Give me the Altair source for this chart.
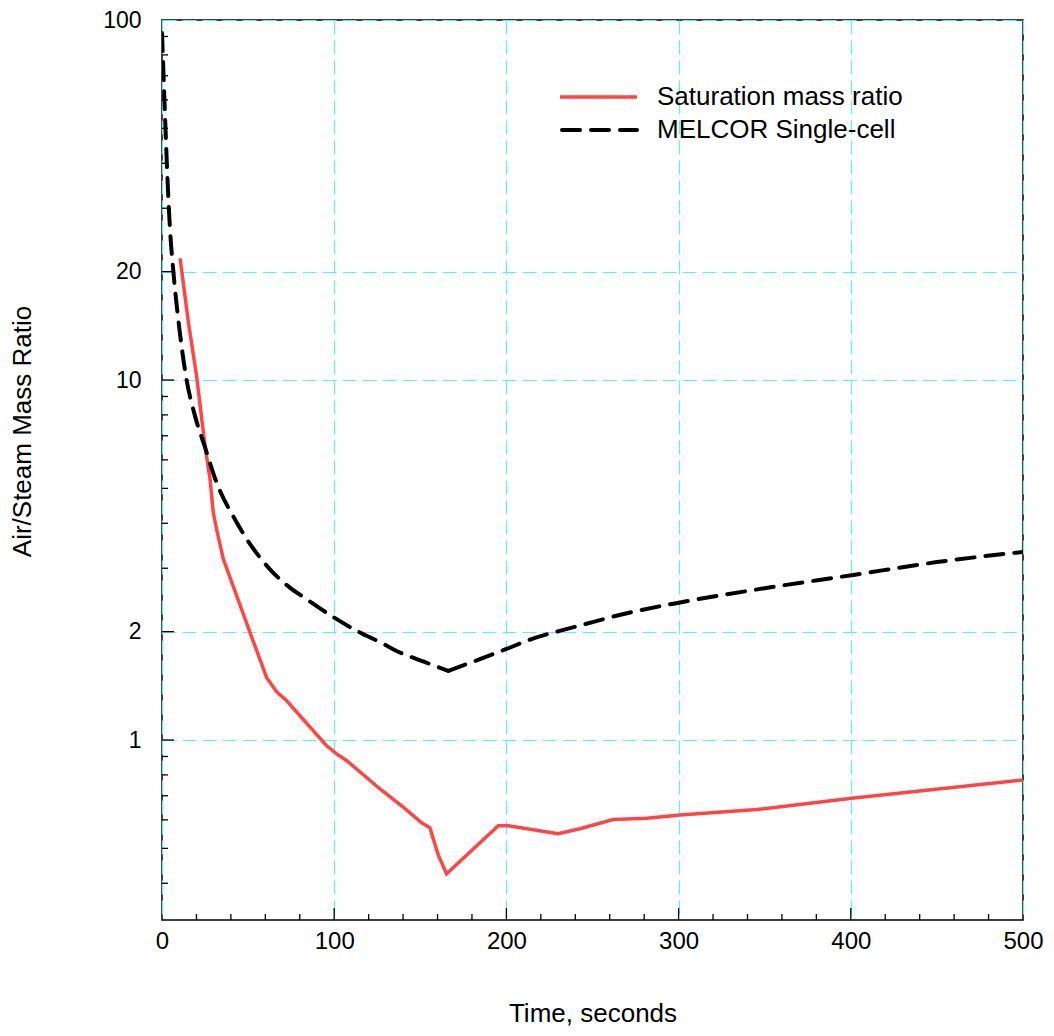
import altair as alt
import pandas as pd

# ---- data ----
melcor_t = [0, 0.8, 1.7, 3, 4.6, 6.6, 10, 14.3, 19, 25, 31, 43.4, 62.7, 73, 84, 100.5, 114,
            126.6, 138.2, 152, 166.3, 185, 200, 215, 231, 242.7, 270, 300.8, 350, 400.5, 450, 500]
melcor_v = [92, 72, 55, 38, 26.5, 20, 14, 10, 8.0, 6.5, 5.3, 4.02, 2.98, 2.68, 2.46, 2.18, 2.0,
            1.87, 1.75, 1.65, 1.556, 1.68, 1.79, 1.91, 2.01, 2.08, 2.25, 2.41, 2.64, 2.87, 3.12, 3.33]
melcor_min_index = 20  # the sharp minimum at t = 166.3 s

sat_t = [10.5, 15.3, 20.1, 25, 27.9, 29.8, 31.7, 35.6, 51.1, 60.8, 66.6, 72.4, 95.6, 101.4,
         107.3, 126.6, 140.1, 150.8, 155.6, 160.5, 165.3, 195.3, 201, 230, 242.7, 262, 281.5,
         300.8, 345.4, 400.5, 500]
sat_v = [21.8, 14.5, 10.24, 6.55, 5.3, 4.28, 3.85, 3.18, 1.99, 1.49, 1.36, 1.285, 0.964, 0.915,
         0.876, 0.731, 0.651, 0.589, 0.570, 0.478, 0.425, 0.578, 0.578, 0.549, 0.567, 0.601, 0.606,
         0.619, 0.641, 0.689, 0.774]

x_label_values = [0, 100, 200, 300, 400, 500]
y_label_values = [1, 2, 10, 20, 100]
x_major_ticks = [100, 200, 300, 400]
x_minor_ticks = [v for v in range(20, 500, 20) if v % 100 != 0]
y_major_ticks = [1, 2, 10, 20]
y_minor_ticks = [0.4, 0.5, 0.6, 0.7, 0.8, 0.9, 3, 4, 5, 6, 7, 8, 9, 30, 40, 50, 60, 70, 80, 90]

series_names = ["Saturation mass ratio", "MELCOR Single-cell"]
x_title = "Time, seconds"
y_title = "Air/Steam Mass Ratio"

FONT = "Liberation Sans"
RED = "#ff4545"
GRID = "#5ef0f0"
DASH = [18, 11]

xscale = alt.Scale(domain=[0, 500], nice=False, zero=False)
yscale = alt.Scale(type="log", domain=[10 ** -0.5, 100], nice=False)

xaxis = alt.Axis(values=x_label_values, title=x_title, grid=True, gridColor=GRID,
                 gridDash=[14, 6], gridWidth=1.2, domain=False, ticks=False, tickSize=0,
                 labelFlush=False, labelFont=FONT, labelFontSize=24, labelColor="black",
                 labelPadding=9,
                 titleFont=FONT, titleFontSize=26, titleFontWeight="normal", titleColor="black",
                 titleY=93, titleBaseline="middle")
yaxis = alt.Axis(values=y_label_values, format="d", title=y_title, grid=True, gridColor=GRID,
                 gridDash=[14, 6], gridWidth=1.2, domain=False, ticks=False, tickSize=0,
                 labelFlush=False, labelFont=FONT, labelFontSize=23, labelColor="black",
                 labelPadding=21,
                 titleFont=FONT, titleFontSize=26, titleFontWeight="normal", titleColor="black",
                 titleX=-140, titleY=411, titleAlign="center", titleBaseline="middle",
                 titleAngle=-90)

X = alt.X("t:Q", scale=xscale, axis=xaxis)
Y = alt.Y("v:Q", scale=yscale, axis=yaxis)

df_sat = pd.DataFrame({"t": sat_t, "v": sat_v})
k = melcor_min_index
df_mel = pd.concat([
    pd.DataFrame({"t": melcor_t[:k + 1], "v": melcor_v[:k + 1], "seg": 0}),
    pd.DataFrame({"t": melcor_t[k:], "v": melcor_v[k:], "seg": 1}),
], ignore_index=True)

sat_line = alt.Chart(df_sat).mark_line(color=RED, strokeWidth=3.5, clip=True).encode(x=X, y=Y)
mel_line = alt.Chart(df_mel).mark_line(color="black", strokeWidth=4, strokeDash=DASH,
                                       strokeCap="round", interpolate="monotone",
                                       clip=True).encode(x=X, y=Y, detail="seg:N")

ytick_major = alt.Chart(pd.DataFrame({"v": y_major_ticks})).mark_rule(
    color="black", strokeWidth=1.3).encode(y=Y, x=alt.value(0), x2=alt.value(12))
ytick_minor = alt.Chart(pd.DataFrame({"v": y_minor_ticks})).mark_rule(
    color="black", strokeWidth=1.3).encode(y=Y, x=alt.value(0), x2=alt.value(6))
xtick_major = alt.Chart(pd.DataFrame({"t": x_major_ticks})).mark_rule(
    color="black", strokeWidth=1.3).encode(x=X, y=alt.value(900), y2=alt.value(888))
xtick_minor = alt.Chart(pd.DataFrame({"t": x_minor_ticks})).mark_rule(
    color="black", strokeWidth=1.3).encode(x=X, y=alt.value(900), y2=alt.value(894))

# legend (drawn manually)
leg_df1 = pd.DataFrame({"label": [series_names[0]]})
leg_df2 = pd.DataFrame({"label": [series_names[1]]})
leg_line1 = alt.Chart(leg_df1).mark_rule(color=RED, strokeWidth=3.5).encode(
    x=alt.value(398), x2=alt.value(475), y=alt.value(77))
leg_line2 = alt.Chart(leg_df2).mark_rule(color="black", strokeWidth=4, strokeDash=DASH,
                                         strokeCap="round").encode(
    x=alt.value(400), x2=alt.value(475), y=alt.value(110))
leg_text1 = alt.Chart(leg_df1).mark_text(font=FONT, fontSize=26, align="left",
                                         baseline="middle", color="black").encode(
    text="label:N", x=alt.value(495), y=alt.value(77))
leg_text2 = alt.Chart(leg_df2).mark_text(font=FONT, fontSize=26, align="left",
                                         baseline="middle", color="black").encode(
    text="label:N", x=alt.value(495), y=alt.value(110))

chart = alt.layer(
    sat_line, mel_line, ytick_major, ytick_minor, xtick_major, xtick_minor,
    leg_line1, leg_line2, leg_text1, leg_text2
).properties(
    width=861, height=900,
    autosize=alt.AutoSizeParams(type="none"),
    padding={"left": 154, "top": 12, "right": 23, "bottom": 108},
    background="white",
).configure_view(stroke="black", strokeWidth=1.5)

chart.save("out.html", embed_options={"renderer": "svg", "actions": False})
